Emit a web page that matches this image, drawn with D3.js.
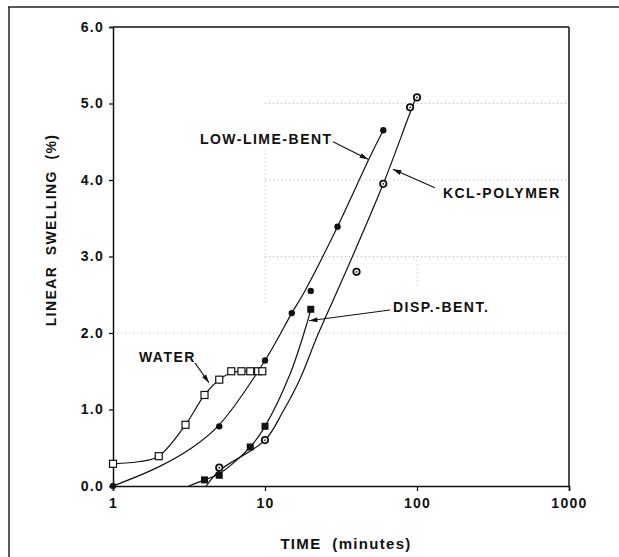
<!DOCTYPE html>
<html>
<head>
<meta charset="utf-8">
<script src="https://cdn.jsdelivr.net/npm/d3@7"></script>
<style>
  body { margin: 0; background: #fff; }
  text { font-family: "Liberation Sans", Arial, sans-serif; font-weight: bold; fill: #111; }
</style>
</head>
<body>
<div id="chart"></div>
<script>
// measured points: [time in minutes, linear swelling %]
var water = [[1, 0.29], [2, 0.39], [3, 0.8], [4, 1.19], [5, 1.39], [6, 1.5], [7, 1.5], [8, 1.5], [9, 1.5], [9.6, 1.5]];
var lowLime = [[1, 0], [5, 0.78], [10, 1.64], [15, 2.26], [20, 2.55], [30, 3.39], [60, 4.65]];
var kclPolymer = [[5, 0.24], [10, 0.6], [40, 2.8], [60, 3.95], [90, 4.95], [100, 5.08]];
var dispBent = [[4, 0.08], [5, 0.14], [8, 0.51], [10, 0.78], [20, 2.31]];

// hand-drawn fit curves
var waterCurve = [[1, 0.29], [1.5, 0.32], [2, 0.39], [3, 0.8], [4, 1.19], [5, 1.39], [6, 1.48], [7, 1.5], [9.6, 1.5]];
var lowLimeCurve = [[1, 0], [2, 0.25], [3.36, 0.51], [5, 0.8], [10, 1.64], [15, 2.26], [18.3, 2.55], [30, 3.39], [49, 4.3], [60, 4.65]];
var kclCurve = [[4.1, 0], [5, 0.2], [10, 0.6], [13.1, 0.97], [17, 1.4], [22.3, 1.98], [34, 2.8], [60, 3.95], [87, 4.8], [100, 5.12]];
var dispCurve = [[3.15, 0], [4, 0.08], [5, 0.16], [8, 0.51], [10, 0.78], [14.6, 1.46], [18.9, 2.13], [20, 2.31]];

var xTicks = [1, 10, 100, 1000];
var yTicks = [0, 1, 2, 3, 4, 5, 6];

// labels: [text, time, value] (left end of text, baseline)
var labels = [["WATER", 1.48, 1.62], ["LOW-LIME-BENT", 3.73, 4.47], ["KCL-POLYMER", 148, 3.76], ["DISP.-BENT.", 69.5, 2.27]];
// arrows: [from time, from value, to time, to value]
var arrows = [[3.46, 1.61, 4.28, 1.35], [28, 4.5, 47.6, 4.27], [131, 3.9, 69.5, 4.14], [66.4, 2.3, 19.5, 2.16]];

var w = 619, h = 557;
var plotLeft = 113, plotRight = 569, plotTop = 27, plotBottom = 486;

var svg = d3.select("#chart").append("svg")
  .attr("width", w)
  .attr("height", h);

var x = d3.scaleLog().domain([1, 1000]).range([plotLeft, plotRight]);
var y = d3.scaleLinear().domain([0, 6]).range([plotBottom, plotTop]);

// outer frame (left and top edges of the scanned page)
svg.append("line").attr("x1", 9).attr("x2", 9).attr("y1", 7).attr("y2", h)
  .attr("stroke", "#222").attr("stroke-width", 1.5);
svg.append("line").attr("x1", 8).attr("x2", w).attr("y1", 7).attr("y2", 7)
  .attr("stroke", "#222").attr("stroke-width", 1.5);

// faint grid
var grid = svg.append("g").attr("stroke", "#aaa").attr("stroke-width", 0.8).attr("stroke-dasharray", "1,3");
[3, 4, 5].forEach(function(v) {
  grid.append("line").attr("x1", x(10)).attr("x2", x(1000)).attr("y1", y(v)).attr("y2", y(v));
});
grid.append("line").attr("x1", x(1)).attr("x2", x(1000)).attr("y1", y(2)).attr("y2", y(2));
grid.append("line").attr("x1", x(10)).attr("x2", x(10)).attr("y1", y(4.4)).attr("y2", y(2.4));
grid.append("line").attr("x1", x(100)).attr("x2", x(100)).attr("y1", y(3)).attr("y2", y(2.6));

// axes
var yAxis = d3.axisLeft(y).tickValues(yTicks).tickSize(4).tickPadding(5)
  .tickFormat(d3.format(".1f"));
var gy = svg.append("g").attr("transform", "translate(" + plotLeft + ",0)").call(yAxis);

var xAxis = d3.axisBottom(x).tickValues(xTicks).tickSize(5).tickPadding(7)
  .tickFormat(d3.format("d"));
var gx = svg.append("g").attr("transform", "translate(0," + plotBottom + ")").call(xAxis);

[gx, gy].forEach(function(g) {
  g.attr("font-size", null).attr("font-family", null);
  g.select(".domain").attr("stroke", "#111").attr("stroke-width", 1.5);
  g.selectAll(".tick line").attr("stroke", "#111").attr("stroke-width", 1.3);
  g.selectAll(".tick text")
    .style("font-size", "14px")
    .style("letter-spacing", "1.3px")
    .attr("fill", "#111");
});

// top and right sides of the plot box
svg.append("line").attr("x1", plotLeft).attr("x2", plotRight).attr("y1", plotTop).attr("y2", plotTop)
  .attr("stroke", "#111").attr("stroke-width", 1.5);
svg.append("line").attr("x1", plotRight).attr("x2", plotRight).attr("y1", plotTop).attr("y2", plotBottom)
  .attr("stroke", "#111").attr("stroke-width", 1.5);

// axis titles
svg.append("text")
  .attr("x", (x(1) + x(1000)) / 2 + 5)
  .attr("y", 549)
  .attr("text-anchor", "middle")
  .style("font-size", "15px")
  .style("letter-spacing", "1.3px")
  .style("white-space", "pre")
  .text("TIME  (minutes)");

svg.append("text")
  .attr("transform", "translate(56,230) rotate(-90)")
  .attr("text-anchor", "middle")
  .style("font-size", "14px")
  .style("letter-spacing", "1.4px")
  .style("white-space", "pre")
  .text("LINEAR  SWELLING  (%)");

// curves
var line = d3.line()
  .x(function(d) { return x(d[0]); })
  .y(function(d) { return y(d[1]); })
  .curve(d3.curveCatmullRom.alpha(0.5));

[waterCurve, lowLimeCurve, kclCurve, dispCurve].forEach(function(c) {
  svg.append("path")
    .attr("d", line(c))
    .attr("fill", "none")
    .attr("stroke", "#111")
    .attr("stroke-width", 1.2);
});

// markers
svg.selectAll("rect.water")
  .data(water)
  .enter()
  .append("rect")
  .attr("class", "water")
  .attr("x", function(d) { return x(d[0]) - 3.5; })
  .attr("y", function(d) { return y(d[1]) - 3.5; })
  .attr("width", 7)
  .attr("height", 7)
  .attr("fill", "#fff")
  .attr("stroke", "#111")
  .attr("stroke-width", 1.2);

svg.selectAll("circle.lowlime")
  .data(lowLime)
  .enter()
  .append("circle")
  .attr("class", "lowlime")
  .attr("cx", function(d) { return x(d[0]); })
  .attr("cy", function(d) { return y(d[1]); })
  .attr("r", 3.2)
  .attr("fill", "#111");

svg.selectAll("circle.kcl")
  .data(kclPolymer)
  .enter()
  .append("circle")
  .attr("class", "kcl")
  .attr("cx", function(d) { return x(d[0]); })
  .attr("cy", function(d) { return y(d[1]); })
  .attr("r", 3.2)
  .attr("fill", "#fff")
  .attr("stroke", "#111")
  .attr("stroke-width", 1.8);

svg.selectAll("circle.kcldot")
  .data(kclPolymer)
  .enter()
  .append("circle")
  .attr("class", "kcldot")
  .attr("cx", function(d) { return x(d[0]); })
  .attr("cy", function(d) { return y(d[1]); })
  .attr("r", 0.9)
  .attr("fill", "#111");

svg.selectAll("rect.disp")
  .data(dispBent)
  .enter()
  .append("rect")
  .attr("class", "disp")
  .attr("x", function(d) { return x(d[0]) - 3.5; })
  .attr("y", function(d) { return y(d[1]) - 3.5; })
  .attr("width", 7)
  .attr("height", 7)
  .attr("fill", "#111");

// labels and arrows
svg.append("defs").append("marker")
  .attr("id", "head")
  .attr("viewBox", "0 0 10 6")
  .attr("refX", 10)
  .attr("refY", 3)
  .attr("markerWidth", 10)
  .attr("markerHeight", 5)
  .attr("markerUnits", "userSpaceOnUse")
  .attr("orient", "auto")
  .append("path")
  .attr("d", "M0,0L10,3L0,6Z")
  .attr("fill", "#111");

svg.selectAll("line.arrow")
  .data(arrows)
  .enter()
  .append("line")
  .attr("class", "arrow")
  .attr("x1", function(d) { return x(d[0]); })
  .attr("y1", function(d) { return y(d[1]); })
  .attr("x2", function(d) { return x(d[2]); })
  .attr("y2", function(d) { return y(d[3]); })
  .attr("stroke", "#111")
  .attr("stroke-width", 1.1)
  .attr("marker-end", "url(#head)");

svg.selectAll("text.lab")
  .data(labels)
  .enter()
  .append("text")
  .attr("class", "lab")
  .attr("x", function(d) { return x(d[1]); })
  .attr("y", function(d) { return y(d[2]); })
  .style("font-size", "14px")
  .style("letter-spacing", "1.5px")
  .text(function(d) { return d[0]; });
</script>
</body>
</html>
